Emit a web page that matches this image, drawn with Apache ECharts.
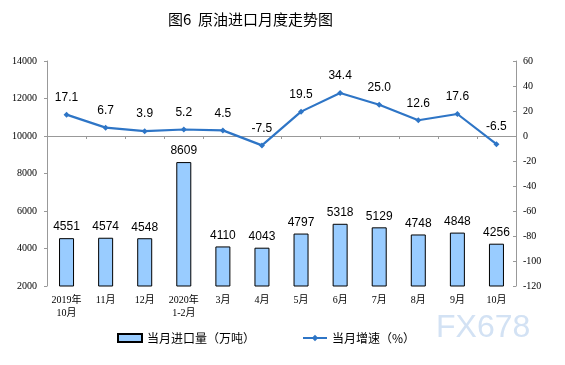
<!DOCTYPE html>
<html><head><meta charset="utf-8">
<script src="https://cdn.jsdelivr.net/npm/echarts@6/dist/echarts.min.js"></script>
<style>html,body{margin:0;padding:0;background:#fff}#c{width:565px;height:365px}</style>
</head><body><div id="c"></div>
<script>
const categories = ['2019年\n10月','11月','12月','2020年\n1-2月','3月','4月','5月','6月','7月','8月','9月','10月'];
const importVolume = [4551,4574,4548,8609,4110,4043,4797,5318,5129,4748,4848,4256];
const growthRate = [17.1,6.7,3.9,5.2,4.5,-7.5,19.5,34.4,25.0,12.6,17.6,-6.5];
const leftTicks = {min:2000,max:14000,interval:2000};
const rightTicks = {min:-120,max:60,interval:20};

const chart = echarts.init(document.getElementById('c'));
const axisFont = {fontFamily:'"Liberation Serif","Noto Sans CJK SC",serif',fontSize:10,color:'#000'};
chart.setOption({
  animation:false,
  title:{text:'图6  原油进口月度走势图',left:163,top:7,textStyle:{fontFamily:'"Noto Sans CJK SC",sans-serif',fontSize:15,fontWeight:'normal',color:'#000'}},
  grid:{left:47,right:49,top:61,bottom:79},
  legend:{bottom:16,left:112,itemGap:47,itemWidth:24,itemHeight:8,
    textStyle:{fontFamily:'"Noto Sans CJK SC",sans-serif',fontSize:12,color:'#000'},
    data:[{name:'当月进口量（万吨）',icon:'rect'},{name:'当月增速（%）'}]},
  xAxis:{type:'category',data:categories,
    axisLine:{lineStyle:{color:'#999'}},axisTick:{show:true,lineStyle:{color:'#999'},length:3},
    axisLabel:Object.assign({},axisFont,{margin:8,lineHeight:13,interval:0})},
  yAxis:[
    {type:'value',min:leftTicks.min,max:leftTicks.max,interval:leftTicks.interval,position:'left',
      splitLine:{show:false},axisLine:{show:true,lineStyle:{color:'#999'}},axisTick:{show:true,length:3,lineStyle:{color:'#999'}},
      axisLabel:Object.assign({},axisFont,{margin:10,formatter:v=>String(v)})},
    {type:'value',min:rightTicks.min,max:rightTicks.max,interval:rightTicks.interval,position:'right',
      splitLine:{show:false},axisLine:{show:true,lineStyle:{color:'#999'}},axisTick:{show:true,inside:true,length:3,lineStyle:{color:'#999'}},
      axisLabel:Object.assign({},axisFont,{margin:7})}
  ],
  series:[
    {name:'当月进口量（万吨）',type:'bar',data:importVolume,barWidth:15,
      itemStyle:{color:'#99CCFF',borderColor:'#000',borderWidth:1},
      label:{show:true,position:'top',distance:5,fontFamily:'"Liberation Sans",Arial,sans-serif',fontSize:12,color:'#000'}},
    {name:'当月增速（%）',type:'line',yAxisIndex:1,data:growthRate,
      symbol:'diamond',symbolSize:6,
      lineStyle:{color:'#2E75C6',width:2.2},itemStyle:{color:'#2E75C6'},
      label:{show:true,position:'top',distance:8,fontFamily:'"Liberation Sans",Arial,sans-serif',fontSize:12,color:'#000',
        formatter:p=>p.value.toFixed(1)}}
  ],
  graphic:[{type:'text',left:436,top:312,style:{text:'FX678',font:'32px "Liberation Sans",Arial,sans-serif',fill:'#d3e2f4',
    shadowColor:'rgba(150,120,90,0.5)',shadowOffsetX:1,shadowOffsetY:1,shadowBlur:1}}]
});
</script></body></html>
